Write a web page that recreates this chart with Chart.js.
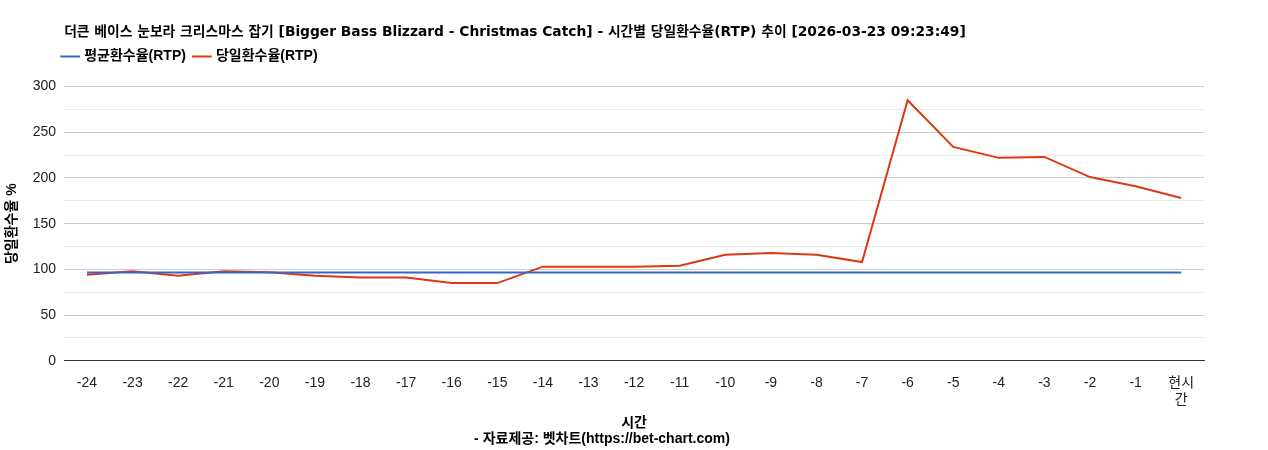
<!DOCTYPE html>
<html><head><meta charset="utf-8">
<script src="https://cdn.jsdelivr.net/npm/chart.js@4/dist/chart.umd.min.js"></script>
<style>html,body{margin:0;background:#fff}#w{width:1268px;height:450px}</style>
</head><body><div id="w"><canvas id="c"></canvas></div>
<script>
const labels=['-24','-23','-22','-21','-20','-19','-18','-17','-16','-15','-14','-13','-12','-11','-10','-9','-8','-7','-6','-5','-4','-3','-2','-1',['현시','간']];
const avgRtp=[96.5,96.5,96.5,96.5,96.5,96.5,96.5,96.5,96.5,96.5,96.5,96.5,96.5,96.5,96.5,96.5,96.5,96.5,96.5,96.5,96.5,96.5,96.5,96.5,96.5];
const dayRtp=[94,98,93,98,97,93,91,91,85,85,103,103,103,104,116,118,116,108,285,234,222,223,201,191,178];
const F="'Liberation Sans','Noto Sans CJK KR',sans-serif";
Chart.defaults.font.family=F;Chart.defaults.color='#222';
const shift={id:'shift',
 beforeLayout(ch){const L=ch.legend;if(L&&!L._wrapped){const f=L.fit;L.fit=function(){f.call(this);this.height+=13;};L._wrapped=true;}},
 afterLayout(ch){const dx=ch.chartArea.left-ch.titleBlock.left;
 ch.titleBlock.left+=dx;ch.titleBlock.right+=dx;
 const dl=dx-10;ch.legend.left+=dl;ch.legend.right+=dl;
 (ch.legend.legendHitBoxes||[]).forEach(h=>h.left+=dl);}};
new Chart(document.getElementById('c'),{type:'line',plugins:[shift],
data:{labels,datasets:[
{label:'평균환수율(RTP)',data:avgRtp,borderColor:'#3366cc',backgroundColor:'#3366cc',borderWidth:2,pointRadius:0,tension:0},
{label:'당일환수율(RTP)',data:dayRtp,borderColor:'#dc3912',backgroundColor:'#dc3912',borderWidth:2,pointRadius:0,tension:0}]},
options:{responsive:true,maintainAspectRatio:false,animation:false,
layout:{padding:{left:0,right:64,top:24,bottom:2}},
plugins:{title:{display:true,text:'더큰 베이스 눈보라 크리스마스 잡기 [Bigger Bass Blizzard - Christmas Catch] - 시간별 당일환수율(RTP) 추이 [2026-03-23 09:23:49]',align:'start',font:{family:"'DejaVu Sans','Noto Sans CJK KR',sans-serif",size:13.8,weight:'bold'},color:'#000',padding:{top:0,bottom:0}},
legend:{align:'start',labels:{usePointStyle:true,pointStyle:'line',boxWidth:40,font:{size:14,weight:'bold'},color:'#000',padding:9}},
subtitle:{display:true,position:'bottom',text:'- 자료제공: 벳차트(https://bet-chart.com)',font:{size:14,weight:'bold'},color:'#000',padding:{top:0,bottom:0}},
tooltip:{enabled:false}},
scales:{x:{offset:true,grid:{display:false},border:{color:'#333'},ticks:{font:{size:14},color:'#222',maxRotation:0,autoSkip:false,padding:6},
title:{display:true,text:'시간',font:{size:14,weight:'bold'},color:'#000',padding:{top:0,bottom:0}}},
y:{min:0,max:300,ticks:{stepSize:25,font:{size:14},color:'#222',padding:8,callback:v=>v%50===0?v:''},
grid:{color:c=>c.tick.value%50===0?'#cccccc':'#ececec',drawTicks:false},border:{display:false},
title:{display:true,text:'당일환수율 %',font:{size:14,weight:'bold'},color:'#000'}}}}});
</script></body></html>
